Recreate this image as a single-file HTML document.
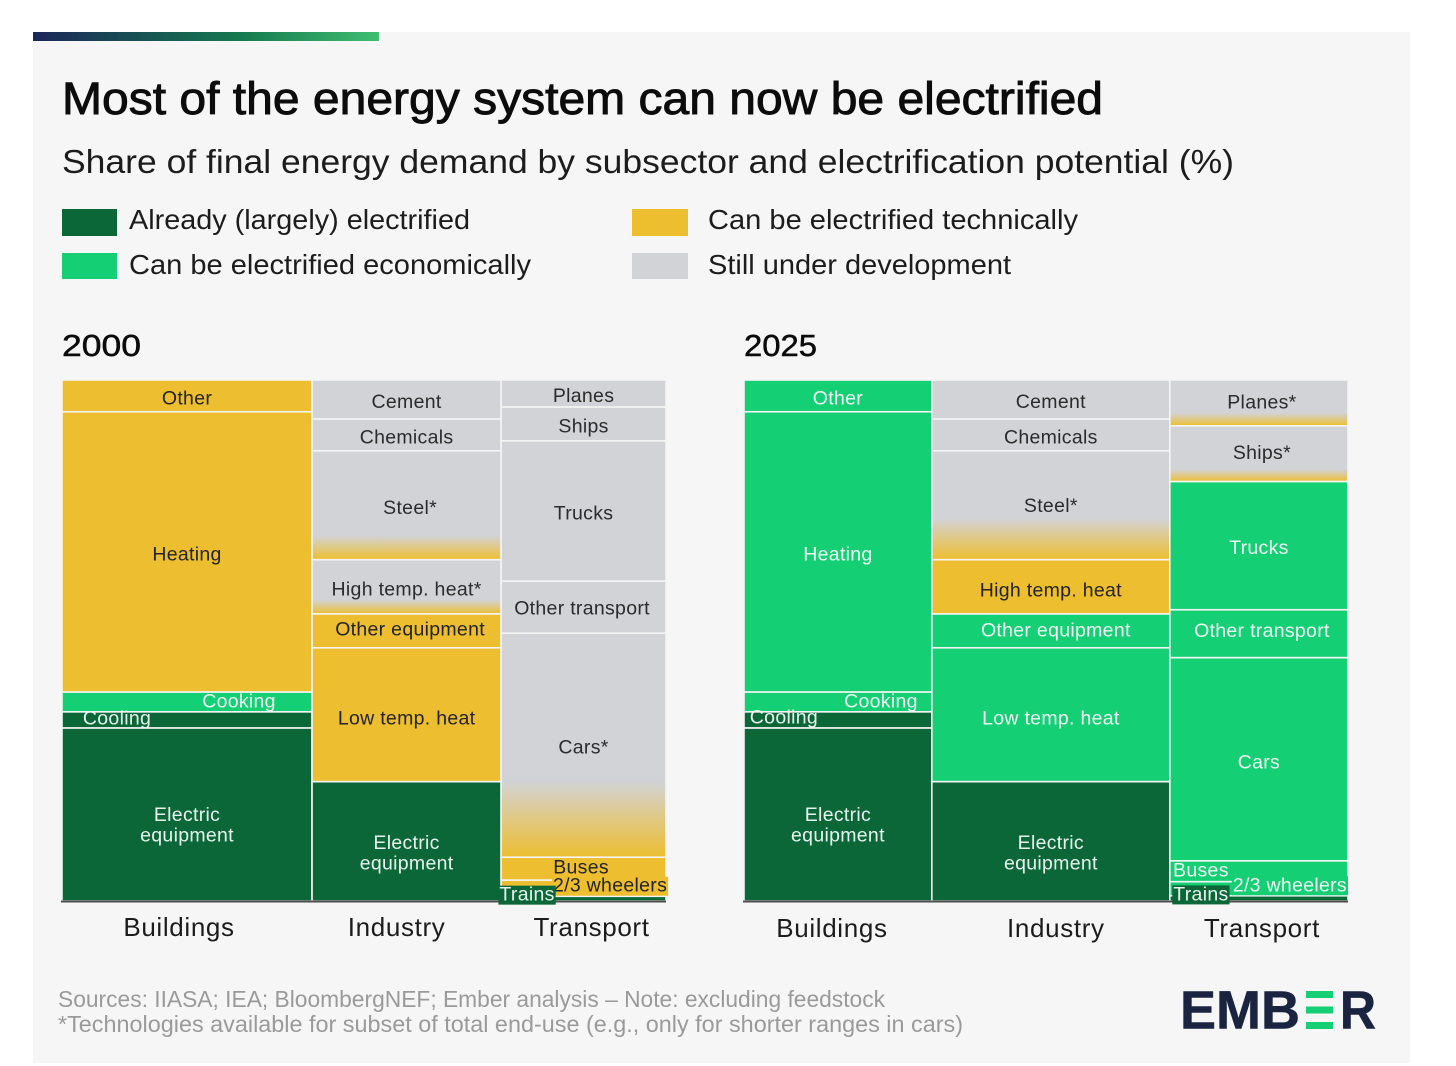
<!DOCTYPE html>
<html lang="en">
<head>
<meta charset="utf-8">
<title>Most of the energy system can now be electrified</title>
<style>
html,body{margin:0;padding:0;background:#fff;}
svg{display:block;font-family:"Liberation Sans",sans-serif;filter:blur(0.35px);}
.cell-label{font-size:19.5px;letter-spacing:.3px;}
.axis-label{font-size:26px;letter-spacing:.65px;fill:#1c1c1c;text-anchor:middle;}
</style>
</head>
<body>
<svg id="root" xmlns="http://www.w3.org/2000/svg" width="1456" height="1066" viewBox="0 0 1456 1066">
  <defs id="defs">
    <linearGradient id="accent" x1="0" x2="1" y1="0" y2="0">
      <stop offset="0" stop-color="#1b2758"/>
      <stop offset="0.6" stop-color="#167a50"/>
      <stop offset="1" stop-color="#3fbd72"/>
    </linearGradient>
  </defs>
  <rect x="33" y="32" width="1377" height="1031" fill="#f6f6f6"/>
  <rect x="33" y="32" width="346" height="9" fill="url(#accent)"/>

  <text x="62" y="114" font-size="45" fill="#0c0c0c" stroke="#0c0c0c" stroke-width="0.9" textLength="1041" lengthAdjust="spacingAndGlyphs">Most of the energy system can now be electrified</text>
  <text x="62" y="173" font-size="33" fill="#1c1c1c" textLength="1172" lengthAdjust="spacingAndGlyphs">Share of final energy demand by subsector and electrification potential (%)</text>

  <g>
    <rect x="62" y="209" width="55" height="27" fill="#0b6638"/>
    <text x="129" y="229" font-size="28" fill="#1c1c1c" textLength="341" lengthAdjust="spacingAndGlyphs">Already (largely) electrified</text>
    <rect x="62" y="253" width="55" height="26" fill="#15cf74"/>
    <text x="129" y="274" font-size="28" fill="#1c1c1c" textLength="402" lengthAdjust="spacingAndGlyphs">Can be electrified economically</text>
    <rect x="632" y="209" width="56" height="27" fill="#edbe30"/>
    <text x="708" y="229" font-size="28" fill="#1c1c1c" textLength="370" lengthAdjust="spacingAndGlyphs">Can be electrified technically</text>
    <rect x="632" y="253" width="56" height="26" fill="#d2d3d6"/>
    <text x="708" y="274" font-size="28" fill="#1c1c1c" textLength="303" lengthAdjust="spacingAndGlyphs">Still under development</text>
  </g>

  <text x="62" y="356" font-size="31" fill="#0c0c0c" stroke="#0c0c0c" stroke-width="0.5" textLength="79" lengthAdjust="spacingAndGlyphs">2000</text>
  <text x="744" y="356" font-size="31" fill="#0c0c0c" stroke="#0c0c0c" stroke-width="0.5" textLength="73" lengthAdjust="spacingAndGlyphs">2025</text>

  <g id="charts"></g>

  <text x="58" y="1007" font-size="23" fill="#9a9a9a" textLength="827" lengthAdjust="spacingAndGlyphs">Sources: IIASA; IEA; BloombergNEF; Ember analysis – Note: excluding feedstock</text>
  <text x="58" y="1032" font-size="23" fill="#9a9a9a" textLength="905" lengthAdjust="spacingAndGlyphs">*Technologies available for subset of total end-use (e.g., only for shorter ranges in cars)</text>

  <g>
    <text x="1180" y="1028.5" font-size="54" font-weight="700" fill="#1a2440" stroke="#1a2440" stroke-width="0.6" textLength="120" lengthAdjust="spacingAndGlyphs">EMB</text>
    <rect x="1306" y="991" width="27" height="7" fill="#15cf74"/>
    <rect x="1306" y="1006.5" width="27" height="7" fill="#15cf74"/>
    <rect x="1306" y="1022" width="27" height="7" fill="#15cf74"/>
    <text x="1340" y="1028.5" font-size="54" font-weight="700" fill="#1a2440" stroke="#1a2440" stroke-width="0.6" textLength="36" lengthAdjust="spacingAndGlyphs">R</text>
  </g>
</svg>

<script>
/* ---- 2000 data: sector widths and subsector shares (%) ---- */
const sectors = ['Buildings', 'Industry', 'Transport'];
const sectorShares2000 = [41.4, 31.3, 27.3];
const buildingsLabels2000 = ['Other', 'Heating', 'Cooking', 'Cooling', 'Electric\nequipment'];
const buildingsValues2000 = [6.1, 53.8, 3.8, 3.1, 33.2];
const buildingsStatus2000 = ['tech', 'tech', 'econ', 'done', 'done'];
const buildingsBlend2000 = [0, 0, 0, 0, 0];
const industryLabels2000 = ['Cement', 'Chemicals', 'Steel*', 'High temp. heat*', 'Other equipment', 'Low temp. heat', 'Electric\nequipment'];
const industryValues2000 = [7.5, 6.1, 20.9, 10.4, 6.5, 25.7, 22.9];
const industryStatus2000 = ['dev', 'dev', 'dev', 'dev', 'tech', 'tech', 'done'];
const industryBlend2000 = [0, 0, 78, 74, 0, 0, 0];
const transportLabels2000 = ['Planes', 'Ships', 'Trucks', 'Other transport', 'Cars*', 'Buses', '2/3 wheelers', 'Trains'];
const transportValues2000 = [5.2, 6.5, 26.9, 10, 43, 4.4, 3.1, 0.9];
const transportStatus2000 = ['dev', 'dev', 'dev', 'dev', 'dev', 'tech', 'tech', 'done'];
const transportBlend2000 = [0, 0, 0, 0, 66, 0, 0, 0];

/* ---- 2025 data ---- */
const sectorShares2025 = [31.1, 39.4, 29.5];
const buildingsLabels2025 = ['Other', 'Heating', 'Cooking', 'Cooling', 'Electric\nequipment'];
const buildingsValues2025 = [6.1, 53.8, 3.8, 3.1, 33.2];
const buildingsStatus2025 = ['econ', 'econ', 'econ', 'done', 'done'];
const buildingsBlend2025 = [0, 0, 0, 0, 0];
const industryLabels2025 = ['Cement', 'Chemicals', 'Steel*', 'High temp. heat', 'Other equipment', 'Low temp. heat', 'Electric\nequipment'];
const industryValues2025 = [7.5, 6.1, 20.9, 10.4, 6.5, 25.7, 22.9];
const industryStatus2025 = ['dev', 'dev', 'dev', 'tech', 'econ', 'econ', 'done'];
const industryBlend2025 = [0, 0, 62, 0, 0, 0, 0];
const transportLabels2025 = ['Planes*', 'Ships*', 'Trucks', 'Other transport', 'Cars', 'Buses', '2/3 wheelers', 'Trains'];
const transportValues2025 = [8.8, 10.7, 24.6, 9.2, 39, 4, 2.7, 1];
const transportStatus2025 = ['dev', 'dev', 'econ', 'econ', 'econ', 'econ', 'econ', 'done'];
const transportBlend2025 = [72, 78, 0, 0, 0, 0, 0, 0];

/* ---- presentation ---- */
const palette = {done: '#0b6638', econ: '#15cf74', tech: '#edbe30', dev: '#d2d3d6'};
const inkColors = {done: '#e8f5ee', econ: '#ecfaf3', tech: '#232323', dev: '#2b2b2b'};
const plotTop = 380;
const plotHeight = 521;
const plotWidth = 604;

const nudges2000 = {
  'Buildings|Cooking': [52, -1], 'Buildings|Cooling': [-70, -2],
  'Buildings|Electric\nequipment': [0, 10], 'Industry|Electric\nequipment': [0, 11.5],
  'Industry|Steel*': [3.5, 2], 'Industry|Low temp. heat': [0, 3.5],
  'Industry|Other equipment': [3.5, -2],
  'Transport|Other transport': [-1.5, 1], 'Transport|Buses': [-2.5, -1.5],
  'Transport|2/3 wheelers': [26.5, -3], 'Transport|Trains': [-56.5, -4.5]
};
const nudges2025 = {
  'Buildings|Cooking': [43, -1], 'Buildings|Cooling': [-54, -3],
  'Buildings|Electric\nequipment': [0, 10], 'Industry|Electric\nequipment': [0, 11.5],
  'Industry|Steel*': [0, 0], 'Industry|High temp. heat': [0, 3], 'Industry|Other equipment': [5, -1],
  'Industry|Low temp. heat': [0, 3.5],
  'Transport|Planes*': [3, -1], 'Transport|Ships*': [3, -1],
  'Transport|Other transport': [3, -3], 'Transport|Cars': [0, 2.5],
  'Transport|Buses': [-58, -1.5], 'Transport|2/3 wheelers': [31, -4], 'Transport|Trains': [-58, -4.5]
};
const axisNudges2000 = [-8, -10, 8];
const axisNudges2025 = [-6, 5, 3];
const SVGNS = 'http://www.w3.org/2000/svg';

function sum(list) { return list.reduce(function (a, b) { return a + b; }, 0); }
function slug(s) { return s.toLowerCase().replace(/[^a-z0-9]+/g, '-').replace(/^-|-$/g, ''); }

function drawCell(parent, year, sector, label, status, blend, x, y, w, h) {
  const cell = document.createElementNS(SVGNS, 'rect');
  
  
  cell.setAttribute('x', x);
  cell.setAttribute('y', y);
  cell.setAttribute('width', w);
  cell.setAttribute('height', h);
  cell.setAttribute('stroke', '#f4f4f4');
  cell.setAttribute('stroke-width', '1.6');
  if (blend > 0) {
    const id = 'blend-' + year + '-' + slug(sector) + '-' + slug(label);
    const grad = document.createElementNS(SVGNS, 'linearGradient');
    grad.setAttribute('id', id);
    grad.setAttribute('x1', '0');
    grad.setAttribute('x2', '0');
    grad.setAttribute('y1', '0');
    grad.setAttribute('y2', '1');
    [[blend, palette.dev], [100, palette.tech]].forEach(function (s) {
      const stop = document.createElementNS(SVGNS, 'stop');
      stop.setAttribute('offset', s[0] + '%');
      stop.setAttribute('stop-color', s[1]);
      grad.appendChild(stop);
    });
    document.getElementById('defs').appendChild(grad);
    cell.setAttribute('fill', 'url(#' + id + ')');
  } else {
    cell.setAttribute('fill', palette[status]);
  }
  parent.appendChild(cell);
}

function drawLabel(parent, year, sector, label, status, x, y, w, h, nudge) {
  const off = nudge[sector + '|' + label] || [0, 2];
  const cx = x + w / 2 + off[0];
  const cy = y + h / 2 + off[1];
  const lines = label.split('\n');
  const text = document.createElementNS(SVGNS, 'text');
  
  
  text.setAttribute('class', 'cell-label');
  text.setAttribute('text-anchor', 'middle');
  text.setAttribute('fill', inkColors[status]);
  lines.forEach(function (line, i) {
    const span = document.createElementNS(SVGNS, 'tspan');
    span.setAttribute('x', cx);
    span.setAttribute('y', cy + (i - (lines.length - 1) / 2) * 20.5 + 6.5);
    span.textContent = line;
    text.appendChild(span);
  });
  parent.appendChild(text);
  /* the smallest slices carry an opaque chip behind their label */
  if (label === 'Trains' || label === '2/3 wheelers') {
    const box = text.getBBox();
    const chip = document.createElementNS(SVGNS, 'rect');
    
    
    chip.setAttribute('x', box.x - 1);
    chip.setAttribute('y', box.y + 2);
    chip.setAttribute('width', box.width + 2);
    chip.setAttribute('height', box.height - 3);
    chip.setAttribute('fill', palette[status]);
    parent.insertBefore(chip, text);
  }
}

function drawColumn(layer, labelLayer, year, sector, x, w, labels, values, status, blends, nudge) {
  const total = sum(values);
  let acc = 0;
  values.forEach(function (v, i) {
    const y = plotTop + acc / total * plotHeight;
    const h = v / total * plotHeight;
    drawCell(layer, year, sector, labels[i], status[i], blends[i], x, y, w, h);
    acc += v;
  });
  acc = 0;
  values.forEach(function (v, i) {
    const y = plotTop + acc / total * plotHeight;
    const h = v / total * plotHeight;
    drawLabel(labelLayer, year, sector, labels[i], status[i], x, y, w, h, nudge);
    acc += v;
  });
}

function drawChart(year, left, shares, columns, nudge, axisNudge) {
  const root = document.getElementById('charts');
  const g = document.createElementNS(SVGNS, 'g');
  
  
  root.appendChild(g);
  const cells = document.createElementNS(SVGNS, 'g');
  
  
  g.appendChild(cells);
  const axis = document.createElementNS(SVGNS, 'line');
  
  
  axis.setAttribute('x1', left - 1);
  axis.setAttribute('x2', left + plotWidth);
  axis.setAttribute('y1', plotTop + plotHeight + 0.5);
  axis.setAttribute('y2', plotTop + plotHeight + 0.5);
  axis.setAttribute('stroke', '#4d4d4d');
  axis.setAttribute('stroke-width', '2');
  g.appendChild(axis);
  const labelLayer = document.createElementNS(SVGNS, 'g');
  
  
  g.appendChild(labelLayer);
  const total = sum(shares);
  let acc = 0;
  shares.forEach(function (share, i) {
    const x = left + acc / total * plotWidth;
    const w = share / total * plotWidth;
    const c = columns[i];
    drawColumn(cells, labelLayer, year, sectors[i], x, w, c[0], c[1], c[2], c[3], nudge);
    const tick = document.createElementNS(SVGNS, 'text');
    
    
    tick.setAttribute('class', 'axis-label');
    tick.setAttribute('x', x + w / 2 + axisNudge[i]);
    tick.setAttribute('y', year === 2000 ? 936 : 937);
    tick.textContent = sectors[i];
    g.appendChild(tick);
    acc += share;
  });
}

drawChart(2000, 62, sectorShares2000, [
  [buildingsLabels2000, buildingsValues2000, buildingsStatus2000, buildingsBlend2000],
  [industryLabels2000, industryValues2000, industryStatus2000, industryBlend2000],
  [transportLabels2000, transportValues2000, transportStatus2000, transportBlend2000]
], nudges2000, axisNudges2000);

drawChart(2025, 744, sectorShares2025, [
  [buildingsLabels2025, buildingsValues2025, buildingsStatus2025, buildingsBlend2025],
  [industryLabels2025, industryValues2025, industryStatus2025, industryBlend2025],
  [transportLabels2025, transportValues2025, transportStatus2025, transportBlend2025]
], nudges2025, axisNudges2025);
</script>
</body>
</html>
